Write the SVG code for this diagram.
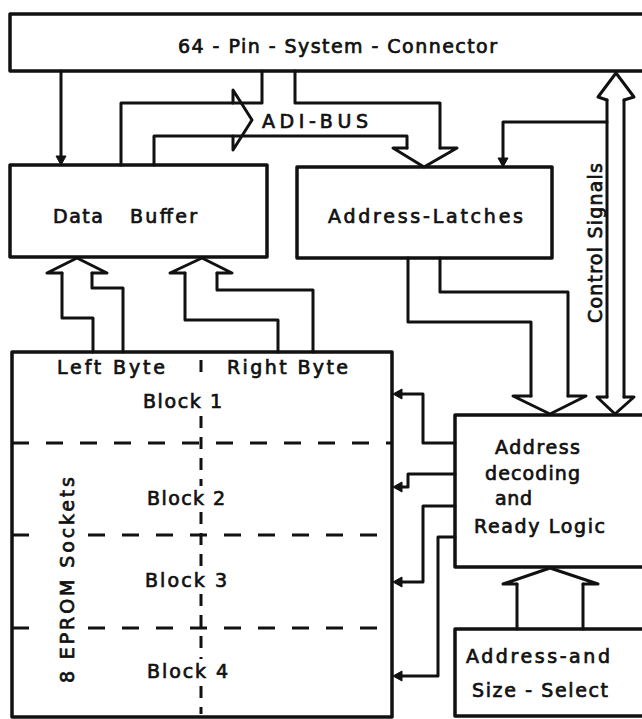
<svg xmlns="http://www.w3.org/2000/svg" width="642" height="719" viewBox="0 0 642 719">
<style>
  .box { fill: none; stroke: #111; stroke-width: 3.5; stroke-linejoin: round; }
  .ln { fill: none; stroke: #111; stroke-width: 3; stroke-linejoin: round; stroke-linecap: round; }
  .dash { fill: none; stroke: #111; stroke-width: 3.2; stroke-dasharray: 17 17; }
  .vdash { fill: none; stroke: #111; stroke-width: 3; stroke-dasharray: 12 9; }
  .ah { fill: #111; stroke: #111; stroke-width: 1; }
  text { font-family: "DejaVu Sans", "Liberation Sans", sans-serif; font-size: 19px; fill: #111; stroke: #111; stroke-width: 0.7; }
</style>
<rect width="642" height="719" fill="#fff"/>

<g id="system-connector">
  <path class="box" d="M660,14 H10 V71 H660"/>
  <text x="178" y="53" textLength="319" lengthAdjust="spacing">64 - Pin - System - Connector</text>
</g>

<g id="data-buffer">
  <rect class="box" x="10" y="165" width="257" height="92"/>
  <text y="223"><tspan x="53" textLength="50" lengthAdjust="spacing">Data</tspan><tspan x="130" textLength="67" lengthAdjust="spacing">Buffer</tspan></text>
</g>

<g id="address-latches">
  <rect class="box" x="297" y="167" width="255" height="91"/>
  <text x="328" y="223" textLength="195" lengthAdjust="spacing">Address-Latches</text>
</g>

<g id="eprom-sockets">
  <rect class="box" x="12" y="352" width="380" height="365"/>
  <path class="vdash" d="M201,360 V378 M201,416 V486 M201,512 V568 M201,594 V659 M201,686 V714"/>
  <path class="dash" d="M12,443 H392"/>
  <path class="dash" d="M12,535 H46 M88,535 H392"/>
  <path class="dash" d="M12,628 H46 M88,628 H392"/>
  <text x="57" y="374" textLength="108" lengthAdjust="spacing">Left Byte</text>
  <text x="227" y="374" textLength="121" lengthAdjust="spacing">Right Byte</text>
  <text x="143" y="408" textLength="79" lengthAdjust="spacing">Block 1</text>
  <text x="147" y="505" textLength="78" lengthAdjust="spacing">Block 2</text>
  <text x="145" y="587" textLength="82" lengthAdjust="spacing">Block 3</text>
  <text x="147" y="678" textLength="81" lengthAdjust="spacing">Block 4</text>
  <text transform="translate(74,683) rotate(-90)" x="0" y="0" textLength="206" lengthAdjust="spacing">8 EPROM Sockets</text>
</g>

<g id="address-decoding">
  <path class="box" d="M660,415 H455 V567 H660"/>
  <text x="495" y="454" textLength="85" lengthAdjust="spacing">Address</text>
  <text x="485" y="480" textLength="95" lengthAdjust="spacing">decoding</text>
  <text x="495" y="505" textLength="37" lengthAdjust="spacing">and</text>
  <text x="474" y="533" textLength="131" lengthAdjust="spacing">Ready Logic</text>
</g>

<g id="address-size-select">
  <path class="box" d="M660,629 H455 V716 H660"/>
  <text x="466" y="663" textLength="144" lengthAdjust="spacing">Address-and</text>
  <text x="472" y="697" textLength="136" lengthAdjust="spacing">Size - Select</text>
</g>

<g id="connectors">
  <!-- connector to data buffer -->
  <path class="ln" d="M61,71 V157"/>
  <path class="ah" d="M56,156 L66,156 L61,165 Z"/>

  <!-- ADI bus -->
  <path class="ln" d="M121,165 V103 H262 V71"/>
  <path class="ln" d="M154,165 V136 H407 V148"/>
  <path class="ln" d="M295,71 V103 H440 V148"/>
  <path class="ln" d="M407,148 H393 L424,167 L457,148 H440"/>
  <path class="ln" d="M233,103 V90 L252,120 L233,150 V136"/>
  <text x="262" y="128" textLength="106" lengthAdjust="spacing">ADI-BUS</text>

  <!-- control signals double arrow -->
  <path class="ln" d="M607,100 V397 M624,100 V397"/>
  <path class="ln" d="M607,100 L598,97 L616,73 L634,97 L624,100"/>
  <path class="ln" d="M607,397 L597,397 L615,414 L634,397 L624,397"/>
  <text transform="translate(602,323) rotate(-90)" x="0" y="0" textLength="160" lengthAdjust="spacing">Control Signals</text>
  <path class="ln" d="M607,122 H503 V159"/>
  <path class="ah" d="M498,158 L508,158 L503,167 Z"/>

  <!-- address latches to decoding -->
  <path class="ln" d="M408,258 V322 H531 V396"/>
  <path class="ln" d="M440,258 V292 H568 V396"/>
  <path class="ln" d="M531,396 H513 L550,414 L586,396 H568"/>

  <!-- left byte to data buffer -->
  <path class="ln" d="M62,273 V318 H93 V352"/>
  <path class="ln" d="M92,273 V288 H123 V352"/>
  <path class="ln" d="M62,273 H47 L77,258 L107,273 H92"/>

  <!-- right byte to data buffer -->
  <path class="ln" d="M185,273 V320 H278 V352"/>
  <path class="ln" d="M217,273 V290 H313 V352"/>
  <path class="ln" d="M185,273 H170 L202,258 L232,273 H217"/>

  <!-- select to decoding -->
  <path class="ln" d="M517,629 V584 M583,629 V584"/>
  <path class="ln" d="M517,584 H503 L550,568 L598,584 H583"/>

  <!-- decoding to blocks -->
  <path class="ln" d="M455,443 H423 V394 H401"/>
  <path class="ah" d="M402,389 L402,399 L393,394 Z"/>
  <path class="ln" d="M455,474 H408 V487 H401"/>
  <path class="ah" d="M402,482 L402,492 L393,487 Z"/>
  <path class="ln" d="M455,506 H423 V582 H401"/>
  <path class="ah" d="M402,577 L402,587 L393,582 Z"/>
  <path class="ln" d="M455,537 H438 V676 H401"/>
  <path class="ah" d="M402,671 L402,681 L393,676 Z"/>
</g>
</svg>
